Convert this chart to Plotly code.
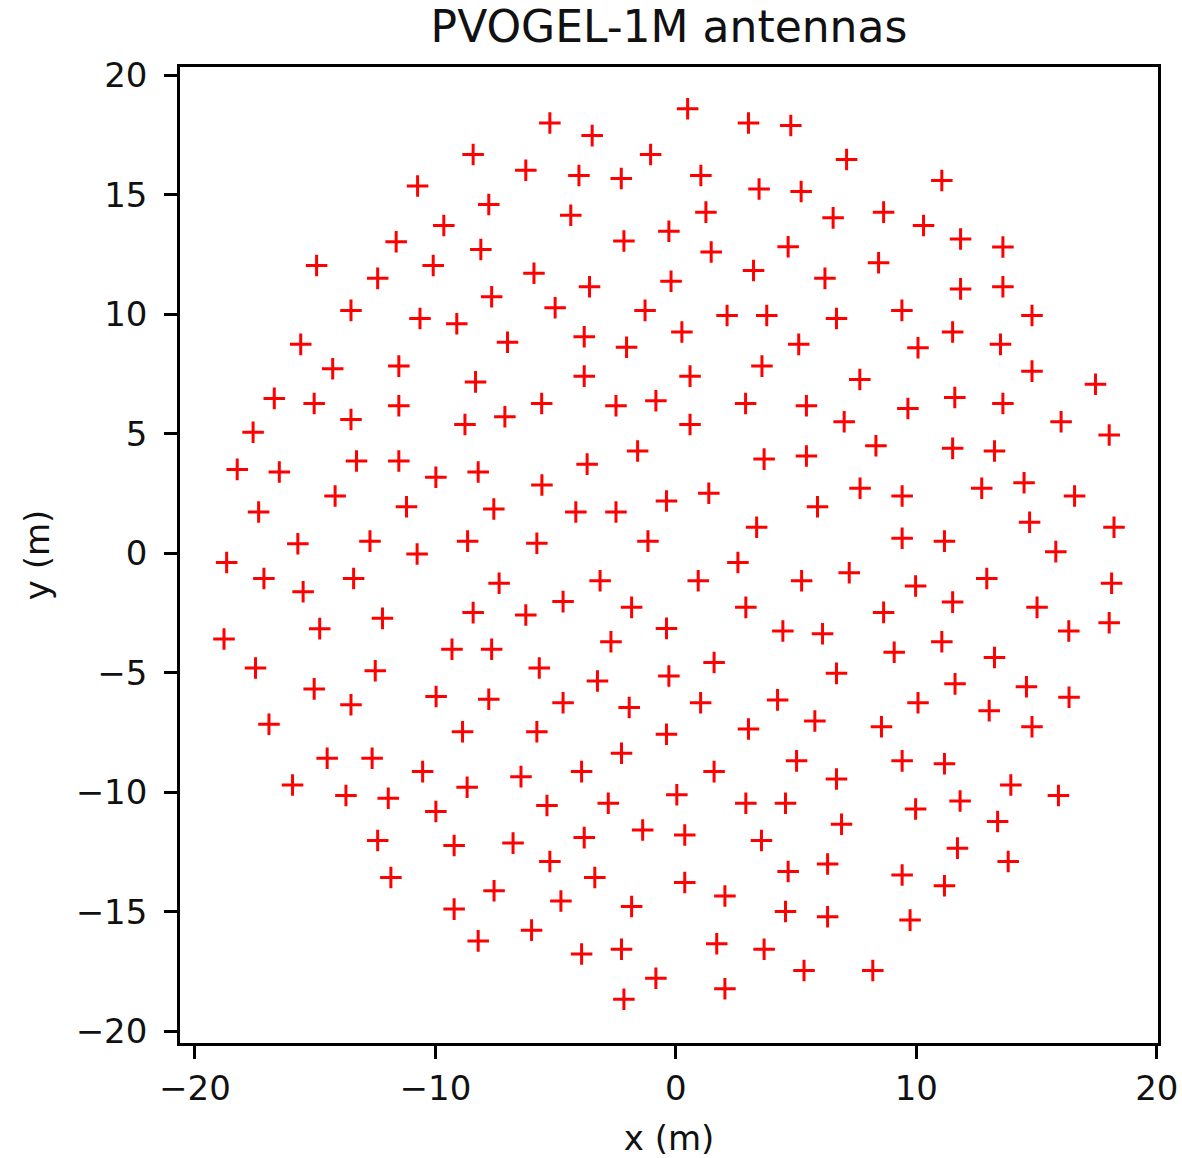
import plotly.graph_objects as go

# Antenna positions of the PVOGEL-1M layout (metres)
x_m = [
    -8.43, -10.74, -7.78, -9.65, -11.63, -8.11, -14.94, -10.09, -12.40, -7.66, -13.51, -10.64, -9.11, -15.60, -14.27, -11.52, -8.33,
    0.49, -5.24, 3.02, 4.78, -3.48, -1.05, -6.24, -4.03, -2.27, 1.04, 3.46, 5.21, -4.37, 1.25, -0.29, -2.16, 1.47, 4.67, -5.90,
    -3.59, -0.20, 3.23, 6.20, -5.02, -1.28, 2.13, 3.78, -7.00, -3.81, -2.05, 0.25, 5.11, -3.81, 0.59, 3.58,
    7.10, 11.06, 6.54, 8.64, 10.30, 11.84, 13.60, 8.43, 11.84, 13.60, 9.40, 6.68, 14.81, 11.51, 10.07, 13.50, 7.65, 14.81, 17.45,
    -16.70, -15.04, -11.52, -13.51, -8.77, -7.11, -17.58, -18.24, -16.49, -13.28, -11.52, -9.98, -8.22, -14.17, -11.20, -7.57,
    -17.35, -15.72, -12.72, -10.76, -8.66, -18.68, -17.13, -15.50, -13.40, -7.35, -8.43, -12.20, -14.81, -18.79, -9.31, -7.66,
    -17.48, -12.50, -15.04, -13.51, -9.97, -7.78,
    -5.58, -2.49, -0.83, 2.90, 5.43, 0.59, -1.59, -3.69, 3.67, 5.43, -5.57, -4.16, -2.49, -0.39, 1.37, 5.89, -5.78, -1.16, 3.36,
    2.58, -3.15, 0.93, 5.23, -4.69, -6.24, -1.84, 2.91, -0.39, 4.45, 6.10, -2.70, -5.68, 1.59, -3.26, -0.29, -4.69, -1.94, 1.03, 4.23,
    11.60, 13.60, 9.65, 7.00, 16.02, 18.02, 8.32, 11.51, 13.25, 7.66, 9.41, 12.72, 14.48, 16.58, 14.71, 18.22, 9.41, 11.17, 15.80,
    7.21, 9.97, 12.93, 18.12, 11.51, 8.64, 15.02, 16.34, 18.02, 11.06, 9.08, 13.25, 6.68, 11.61, 14.58, 16.35, 10.07, 13.03,
    -16.92, -8.87, -14.50, -12.63, -10.53, -15.94, -13.72, -11.96, -8.68, -9.98, -12.40, -9.22, -11.85, -7.56, -9.22, -8.22,
    -5.78, -0.39, 3.02, 5.78, -2.26, -6.44, -3.92, 1.59, 5.02, -5.36, -2.81, 0.04, 2.91, 4.56, -6.77, -3.81, -1.38, 0.37, 3.56,
    -5.24, -3.37, 4.67, 6.31, 0.37, 2.04, -4.78, -1.84, 4.56, 6.31, -6.00, -3.92, -2.26, 1.70, 3.67, 5.33, -0.83, 2.04, -2.16,
    8.55, 14.81, 9.41, 11.17, 6.68, 13.93, 15.91, 9.97, 11.82, 6.89, 13.38, 11.71, 13.82, 9.41, 11.17, 9.74, 8.19,
]

y_m = [
    16.68, 15.36, 14.59, 13.71, 13.03, 12.71, 12.04, 12.04, 11.50, 10.73, 10.16, 9.82, 9.60, 8.74, 7.72, 7.83, 7.17,
    18.59, 18.00, 18.00, 17.89, 17.47, 16.68, 16.02, 15.80, 15.68, 15.80, 15.24, 15.13, 14.14, 14.27, 13.47, 13.06, 12.60, 12.82, 11.71,
    11.15, 11.38, 11.83, 11.50, 10.27, 10.16, 9.95, 9.95, 8.83, 9.06, 8.62, 9.26, 8.74, 7.41, 7.41, 7.83,
    16.47, 15.59, 14.03, 14.27, 13.71, 13.15, 12.81, 12.15, 11.06, 11.15, 10.16, 9.82, 9.95, 9.26, 8.60, 8.74, 7.27, 7.62, 7.07,
    6.48, 6.27, 6.17, 5.60, 5.39, 5.71, 5.06, 3.51, 3.40, 3.86, 3.86, 3.18, 3.40, 2.40, 1.95, 1.85,
    1.73, 0.40, 0.51, -0.03, 0.51, -0.38, -1.05, -1.61, -1.05, -1.25, -2.48, -2.72, -3.15, -3.58, -4.01, -4.01,
    -4.80, -4.91, -5.67, -6.33, -5.99, -6.10,
    6.27, 6.17, 6.38, 6.27, 6.17, 5.39, 4.28, 3.73, 3.94, 4.07, 2.86, 1.73, 1.73, 2.19, 2.51, 1.95, 0.42, 0.51, 1.09,
    -0.38, -1.15, -1.15, -1.15, -2.02, -2.58, -2.26, -2.26, -3.14, -3.25, -3.36, -3.70, -4.80, -4.57, -5.34, -5.13, -6.25, -6.45, -6.25, -6.13,
    6.52, 6.27, 6.06, 5.50, 5.50, 4.95, 4.50, 4.39, 4.28, 2.72, 2.40, 2.72, 2.95, 2.40, 1.30, 1.09, 0.63, 0.51, 0.07,
    -0.81, -1.37, -1.05, -1.25, -2.04, -2.47, -2.26, -3.25, -2.90, -3.70, -4.14, -4.36, -5.02, -5.46, -5.58, -6.02, -6.25, -6.58,
    -7.15, -7.46, -8.57, -8.57, -9.13, -9.69, -10.13, -10.24, -9.78, -10.80, -12.01, -12.22, -13.56, -14.11, -14.88, -16.21,
    -7.46, -7.57, -7.35, -7.01, -8.36, -9.34, -9.13, -9.13, -8.68, -10.55, -10.45, -10.10, -10.45, -10.45, -12.12, -11.89, -11.57, -11.78, -12.01,
    -12.89, -13.56, -13.31, -12.99, -13.77, -14.33, -14.54, -14.77, -14.98, -15.20, -15.76, -16.76, -16.56, -16.33, -16.56, -17.45, -17.77, -18.21, -18.65,
    -7.25, -7.25, -8.68, -8.80, -9.44, -9.69, -10.13, -10.69, -10.36, -11.33, -11.22, -12.33, -12.89, -13.45, -13.90, -15.34, -17.45,
]

assert len(x_m) == len(y_m)

x_ticks = [-20, -10, 0, 10, 20]
y_ticks = [-20, -15, -10, -5, 0, 5, 10, 15, 20]

FONT = "DejaVu Sans"
TEXT = "#111111"

fig = go.Figure(
    go.Scatter(
        x=x_m,
        y=y_m,
        mode="markers",
        marker=dict(
            symbol="cross-thin",
            size=15.4,
            color="red",
            line=dict(color="red", width=3),
        ),
        hoverinfo="x+y",
    )
)

axis_common = dict(
    showgrid=False,
    zeroline=False,
    showline=True,
    linecolor="black",
    linewidth=2.6,
    mirror=True,
    ticks="outside",
    ticklen=13,
    tickwidth=2.6,
    tickcolor="black",
    tickfont=dict(family=FONT, size=34, color=TEXT),
)

fig.update_xaxes(
    range=[-20.62, 20.05],
    tickvals=x_ticks,
    title=dict(text="x (m)", font=dict(family=FONT, size=34, color=TEXT), standoff=20),
    **axis_common,
)
fig.update_yaxes(
    range=[-20.48, 20.34],
    tickvals=y_ticks,
    ticklabelstandoff=10,
    title=dict(text="y (m)", font=dict(family=FONT, size=34, color=TEXT), standoff=16),
    **axis_common,
)

fig.update_layout(
    width=1182,
    height=1158,
    margin=dict(l=180, r=24, t=67, b=115, autoexpand=False),
    paper_bgcolor="white",
    plot_bgcolor="white",
    showlegend=False,
    font=dict(family=FONT, color=TEXT),
    title=dict(
        text="PVOGEL-1M antennas",
        font=dict(family=FONT, size=44, color=TEXT),
        x=0.5,
        xref="paper",
        xanchor="center",
        y=1 - 27 / 1158,
        yref="container",
        yanchor="middle",
    ),
)

fig.write_html("out.html")
